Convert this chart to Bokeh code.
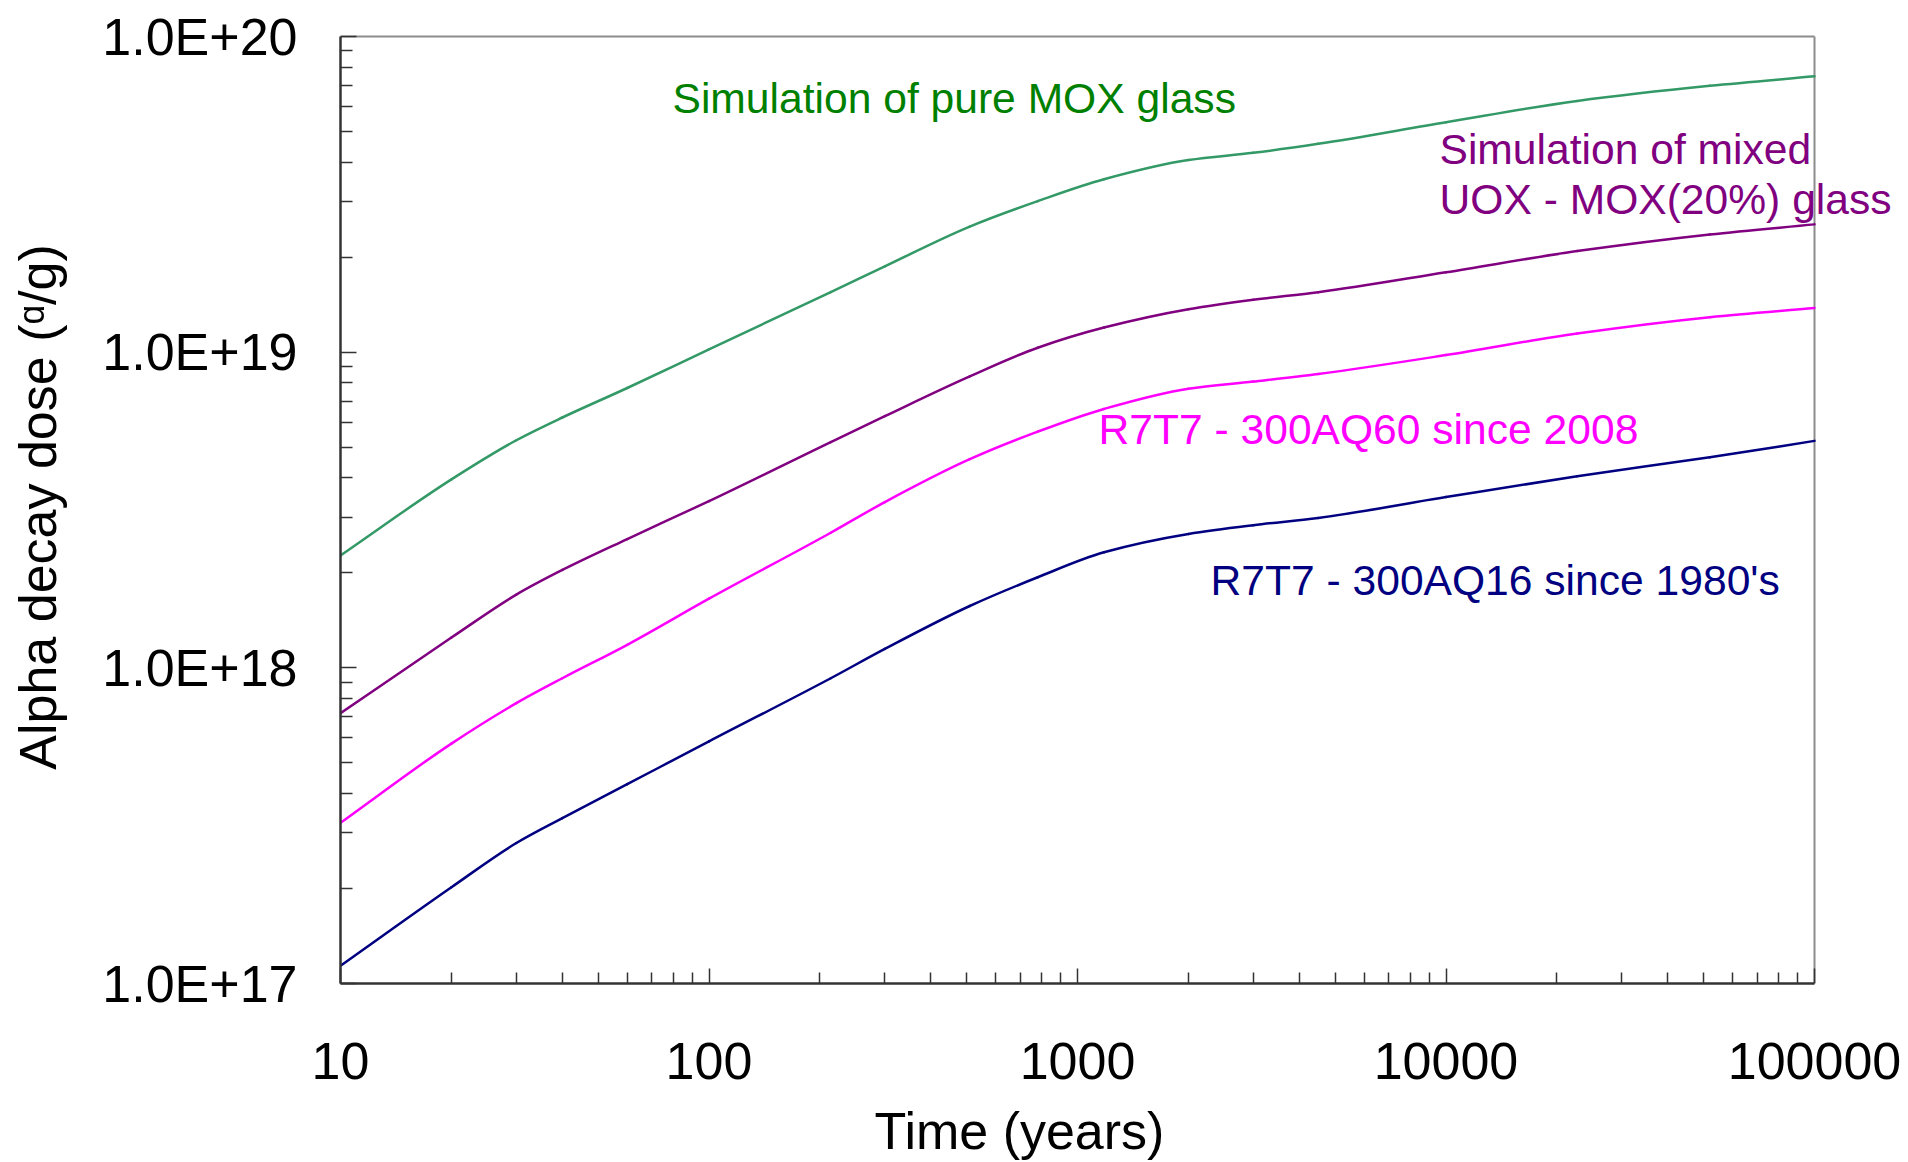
from math import log10

from bokeh.plotting import figure
from bokeh.models import FixedTicker, Label, LogAxis, Range1d
from bokeh.embed import file_html
from bokeh.resources import INLINE

# Time after vitrification (years)
years = [10, 20, 30, 40, 60, 100, 214, 300, 510, 780, 1180, 2000, 3000,
         4500, 10000, 22700, 52000, 100000]

# Cumulated alpha decay dose (alpha/g) for each glass
dose_pure_mox = [2.27e18, 3.954e18, 5.26e18, 6.209e18, 7.70e18, 1.021e19,
                 1.549e19, 1.871e19, 2.50e19, 3.01e19, 3.53e19, 4.06e19,
                 4.28e19, 4.57e19, 5.35e19, 6.25e19, 6.98e19, 7.48e19]
dose_mixed_uox_mox = [7.18e17, 1.247e18, 1.706e18, 2.042e18, 2.559e18,
                      3.373e18, 5.19e18, 6.27e18, 8.38e18, 1.033e19,
                      1.197e19, 1.368e19, 1.466e19, 1.549e19, 1.791e19,
                      2.09e19, 2.36e19, 2.54e19]
dose_aq60 = [3.228e17, 5.754e17, 7.727e17, 9.268e17, 1.183e18, 1.656e18,
             2.679e18, 3.35e18, 4.58e18, 5.60e18, 6.61e18, 7.66e18, 8.07e18,
             8.53e18, 9.79e18, 1.146e19, 1.291e19, 1.38e19]
dose_aq16 = [1.138e17, 2.018e17, 2.786e17, 3.342e17, 4.28e17, 5.848e17,
             9.268e17, 1.148e18, 1.57e18, 1.936e18, 2.323e18, 2.655e18,
             2.831e18, 2.985e18, 3.475e18, 4.046e18, 4.645e18, 5.236e18]

series_labels = [
    "Simulation of pure MOX glass",
    "Simulation of mixed\nUOX - MOX(20%) glass",
    "R7T7 - 300AQ60 since 2008",
    "R7T7 - 300AQ16 since 1980's",
]
series_colors = ["#339966", "#800080", "#ff00ff", "#000080"]
label_colors = ["#008000", "#800080", "#ff00ff", "#000080"]

x_ticks = [10, 100, 1000, 10000, 100000]
x_tick_labels = ["10", "100", "1000", "10000", "100000"]
y_ticks = [1e17, 1e18, 1e19, 1e20]
y_tick_labels = ["1.0E+17", "1.0E+18", "1.0E+19", "1.0E+20"]

FONT = "Liberation Sans"
W, H = 1908, 1162
LEFT, RIGHT_EDGE, TOP, BOTTOM = 340, 1814, 30, 179
PX_PER_DECADE_X = (RIGHT_EDGE - LEFT) / 4
PX_PER_DECADE_Y = (H - BOTTOM - 36) / 3

# The frame runs to the right edge of the canvas so that the mixed-glass
# caption can spill past the plotted box; the box itself stops at 1e5 years.
x_end = 10 ** (1 + (W - LEFT) / PX_PER_DECADE_X)
y_end = 10 ** (20 + (36 - TOP) / PX_PER_DECADE_Y)

p = figure(
    width=W, height=H,
    x_axis_type="log", y_axis_type="log",
    x_range=Range1d(x_ticks[0], x_end), y_range=Range1d(y_ticks[0], y_end),
    output_backend="svg", toolbar_location=None,
    min_border_left=LEFT, min_border_right=0,
    min_border_top=TOP, min_border_bottom=BOTTOM,
    background_fill_color="white", border_fill_color="white",
)
p.grid.visible = False
p.outline_line_color = None


def minor(majors):
    out = []
    for m in majors[:-1]:
        out += [k * m for k in range(2, 10)]
    return out


p.xaxis.ticker = FixedTicker(ticks=x_ticks, minor_ticks=minor(x_ticks))
p.yaxis.ticker = FixedTicker(ticks=y_ticks, minor_ticks=minor(y_ticks))
p.xaxis.major_label_overrides = dict(zip(x_ticks, x_tick_labels))
p.yaxis.major_label_overrides = dict(zip(y_ticks, y_tick_labels))
p.xaxis.bounds = (x_ticks[0], x_ticks[-1])
p.yaxis.bounds = (y_ticks[0], y_ticks[-1])

for ax in (p.xaxis[0], p.yaxis[0]):
    ax.axis_line_color = "#333333"
    ax.axis_line_width = 2.5
    ax.major_tick_line_color = "#333333"
    ax.minor_tick_line_color = "#333333"
    ax.major_tick_line_width = 1.5
    ax.minor_tick_line_width = 1.5
    ax.major_tick_out = 0
    ax.minor_tick_out = 0
    ax.major_label_text_font = FONT
    ax.major_label_text_font_size = "52px"
    ax.major_label_text_color = "black"

p.xaxis.major_tick_in = 15
p.xaxis.minor_tick_in = 11
p.xaxis.major_label_standoff = 59
p.yaxis.major_tick_in = 16
p.yaxis.minor_tick_in = 12
p.yaxis.major_label_standoff = 43

p.yaxis.axis_label = "Alpha decay dose (\u1d45/g)"
p.yaxis.axis_label_text_font = FONT
p.yaxis.axis_label_text_font_size = "52px"
p.yaxis.axis_label_text_font_style = "normal"
p.yaxis.axis_label_text_color = "black"
p.yaxis.axis_label_standoff = 32

# x-axis title, set a little left of the box centre
title_pos = 10 ** (1 + (1019 - LEFT) / PX_PER_DECADE_X)
x_title = LogAxis(
    ticker=FixedTicker(ticks=[title_pos], minor_ticks=[]),
    major_label_overrides={title_pos: "Time (years)"},
    axis_line_color=None, major_tick_line_color=None,
    minor_tick_line_color=None,
    major_label_standoff=14,
    major_label_text_font=FONT, major_label_text_font_size="52px",
    major_label_text_color="black",
)
p.add_layout(x_title, "below")

# top and right edges of the plotted box
p.segment(x0=[x_ticks[0], x_ticks[-1]], y0=[y_ticks[-1], y_ticks[0]],
          x1=[x_ticks[-1], x_ticks[-1]], y1=[y_ticks[-1], y_ticks[-1]],
          line_color="#8c8c8c", line_width=2)


def smooth_segments(xs, ys):
    """Monotone cubic (PCHIP) through the points in log-log space,
    returned as Bezier segments in data units."""
    lx = [log10(v) for v in xs]
    ly = [log10(v) for v in ys]
    n = len(lx)
    h = [lx[i + 1] - lx[i] for i in range(n - 1)]
    d = [(ly[i + 1] - ly[i]) / h[i] for i in range(n - 1)]
    m = [d[0]] + [0.0] * (n - 2) + [d[-1]]
    for i in range(1, n - 1):
        if d[i - 1] * d[i] > 0:
            h0, h1 = h[i - 1], h[i]
            m[i] = 3 * (h0 + h1) / ((2 * h1 + h0) / d[i - 1]
                                    + (h1 + 2 * h0) / d[i])
    seg = dict(x0=[], y0=[], x1=[], y1=[], cx0=[], cy0=[], cx1=[], cy1=[])
    for i in range(n - 1):
        t = h[i] / 3
        seg["x0"].append(xs[i])
        seg["y0"].append(ys[i])
        seg["x1"].append(xs[i + 1])
        seg["y1"].append(ys[i + 1])
        seg["cx0"].append(10 ** (lx[i] + t))
        seg["cy0"].append(10 ** (ly[i] + m[i] * t))
        seg["cx1"].append(10 ** (lx[i + 1] - t))
        seg["cy1"].append(10 ** (ly[i + 1] - m[i + 1] * t))
    return seg


# Dose curves
for dose, color in zip([dose_pure_mox, dose_mixed_uox_mox, dose_aq60,
                        dose_aq16], series_colors):
    p.bezier(**smooth_segments(years, dose), line_color=color,
             line_width=2.5, line_cap="round")


def note(text, x, y, color, size="42.6px", **kw):
    p.add_layout(Label(x=x, y=y, x_units="screen", y_units="screen",
                       text=text, text_color=color, text_font=FONT,
                       text_font_size=size, text_baseline="alphabetic", **kw))


note(series_labels[0], 332, 886, label_colors[0])
mixed_1, mixed_2 = series_labels[1].split("\n")
note(mixed_1, 1099, 834.5, label_colors[1])
note(mixed_2, 1099, 784.5, label_colors[1])
note(series_labels[2], 758, 555, label_colors[2])
note(series_labels[3], 870, 403.5, label_colors[3])

html = file_html(p, INLINE)
html = html.replace("<head>", "<head><style>body{margin:0;}</style>", 1)
open("out.html", "w").write(html)
